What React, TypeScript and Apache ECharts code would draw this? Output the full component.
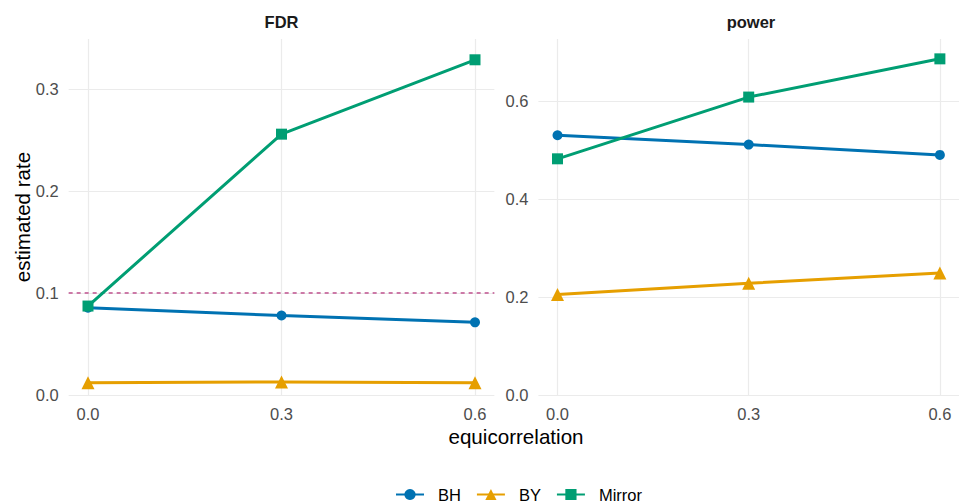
import React, { useEffect, useRef } from "react";
import * as echarts from "echarts";

const xValues = [0.0, 0.3, 0.6];
const seriesNames = ["BH", "BY", "Mirror"];
const fdrBH = [0.0856, 0.078, 0.0713];
const fdrBY = [0.012, 0.0128, 0.012];
const fdrMirror = [0.0873, 0.256, 0.329];
const powerBH = [0.53, 0.511, 0.49];
const powerBY = [0.205, 0.228, 0.249];
const powerMirror = [0.482, 0.608, 0.686];
const fdrTicks = [0, 0.1, 0.2, 0.3];
const powerTicks = [0, 0.2, 0.4, 0.6];
const panelTitles = ["FDR", "power"];
const targetFDR = 0.1;

const colors: Record<string, string> = { BH: "#0072B2", BY: "#E69F00", Mirror: "#009E73" };
const symbols: Record<string, string> = { BH: "circle", BY: "triangle", Mirror: "rect" };
const symbolSizes: Record<string, number> = { BH: 10, BY: 13, Mirror: 11 };

const FONT = "'Liberation Sans', Arial, Helvetica, sans-serif";

export default function App() {
  const ref = useRef<HTMLDivElement>(null);
  useEffect(() => {
    if (!ref.current) return;
    const chart = echarts.init(ref.current, undefined, { renderer: "svg" });
    const gridColor = "#EBEBEB";
    const mkX = (i: number) => ({
      type: "value",
      gridIndex: i,
      min: -0.03,
      max: 0.63,
      axisLine: { show: false },
      axisTick: { show: false },
      splitLine: { show: false },
      axisLabel: {
        customValues: xValues,
        formatter: (v: number) => v.toFixed(1),
        margin: 10,
        fontSize: 16.5,
        color: "#4D4D4D",
        fontFamily: FONT,
      },
    });
    const mkY = (i: number, max: number, ticks: number[]) => ({
      type: "value",
      gridIndex: i,
      min: 0,
      max,
      axisLine: { show: false },
      axisTick: { show: false },
      splitLine: { show: false },
      axisLabel: {
        customValues: ticks,
        formatter: (v: number) => v.toFixed(1),
        margin: 10,
        fontSize: 16.5,
        color: "#4D4D4D",
        fontFamily: FONT,
      },
    });
    const gridSeries = (i: number, ticks: number[]) => ({
      type: "line",
      name: "grid" + i,
      xAxisIndex: i,
      yAxisIndex: i,
      data: [],
      silent: true,
      z: 0,
      markLine: {
        silent: true,
        symbol: ["none", "none"],
        label: { show: false },
        z: 0,
        lineStyle: { color: gridColor, width: 1.2, type: "solid" },
        data: [
          ...xValues.map((v) => ({ xAxis: v })),
          ...ticks.map((v) => ({ yAxis: v })),
        ],
      },
    });
    const dataSeries = (i: number, name: string, vals: number[]) => ({
      type: "line",
      name,
      xAxisIndex: i,
      yAxisIndex: i,
      data: xValues.map((x, k) => [x, vals[k]]),
      symbol: symbols[name],
      symbolSize: symbolSizes[name],
      showSymbol: true,
      z: 3,
      lineStyle: { color: colors[name], width: 3 },
      itemStyle: { color: colors[name] },
      emphasis: { disabled: true },
    });
    const option: any = {
      animation: false,
      backgroundColor: "#FFFFFF",
      textStyle: { fontFamily: FONT },
      grid: [
        { left: 68.65, top: 39, width: 425.7, height: 356 },
        { left: 538.4, top: 39, width: 425, height: 356 },
      ],
      xAxis: [mkX(0), mkX(1)],
      yAxis: [mkY(0, 0.3494, fdrTicks), mkY(1, 0.7265, powerTicks)],
      legend: {
        data: seriesNames,
        left: 395,
        top: 486,
        padding: 0,
        itemWidth: 28,
        itemHeight: 14,
        itemGap: 15,
        textStyle: {
          fontSize: 16.5,
          lineHeight: 15,
          color: "#000000",
          fontFamily: FONT,
          padding: [0, 0, 0, 9],
        },
      },
      series: [
        gridSeries(0, fdrTicks),
        gridSeries(1, powerTicks),
        {
          type: "line",
          name: "target",
          xAxisIndex: 0,
          yAxisIndex: 0,
          data: [],
          silent: true,
          z: 1,
          markLine: {
            silent: true,
            symbol: ["none", "none"],
            label: { show: false },
            z: 1,
            lineStyle: { color: "#CC79A7", width: 2, type: [4, 4] },
            data: [{ yAxis: targetFDR }],
          },
        },
        dataSeries(0, "BY", fdrBY),
        dataSeries(0, "BH", fdrBH),
        dataSeries(0, "Mirror", fdrMirror),
        dataSeries(1, "BY", powerBY),
        dataSeries(1, "BH", powerBH),
        dataSeries(1, "Mirror", powerMirror),
      ],
      graphic: [
        {
          type: "text",
          x: 281.5,
          y: 22,
          style: {
            text: panelTitles[0],
            fill: "#1A1A1A",
            font: `bold 16.5px ${FONT}`,
            align: "center",
            verticalAlign: "middle",
          },
        },
        {
          type: "text",
          x: 751,
          y: 22,
          style: {
            text: panelTitles[1],
            fill: "#1A1A1A",
            font: `bold 16.5px ${FONT}`,
            align: "center",
            verticalAlign: "middle",
          },
        },
        {
          type: "text",
          x: 516,
          y: 436,
          style: {
            text: "equicorrelation",
            fill: "#000000",
            font: `20.6px ${FONT}`,
            align: "center",
            verticalAlign: "middle",
          },
        },
        {
          type: "text",
          x: 22,
          y: 217,
          rotation: Math.PI / 2,
          style: {
            text: "estimated rate",
            fill: "#000000",
            font: `20.6px ${FONT}`,
            align: "center",
            verticalAlign: "middle",
          },
        },
      ],
    };
    chart.setOption(option);
    return () => chart.dispose();
  }, []);
  return (
    <div
      ref={ref}
      style={{ position: "absolute", left: 0, top: 0, width: 959, height: 502 }}
    />
  );
}
